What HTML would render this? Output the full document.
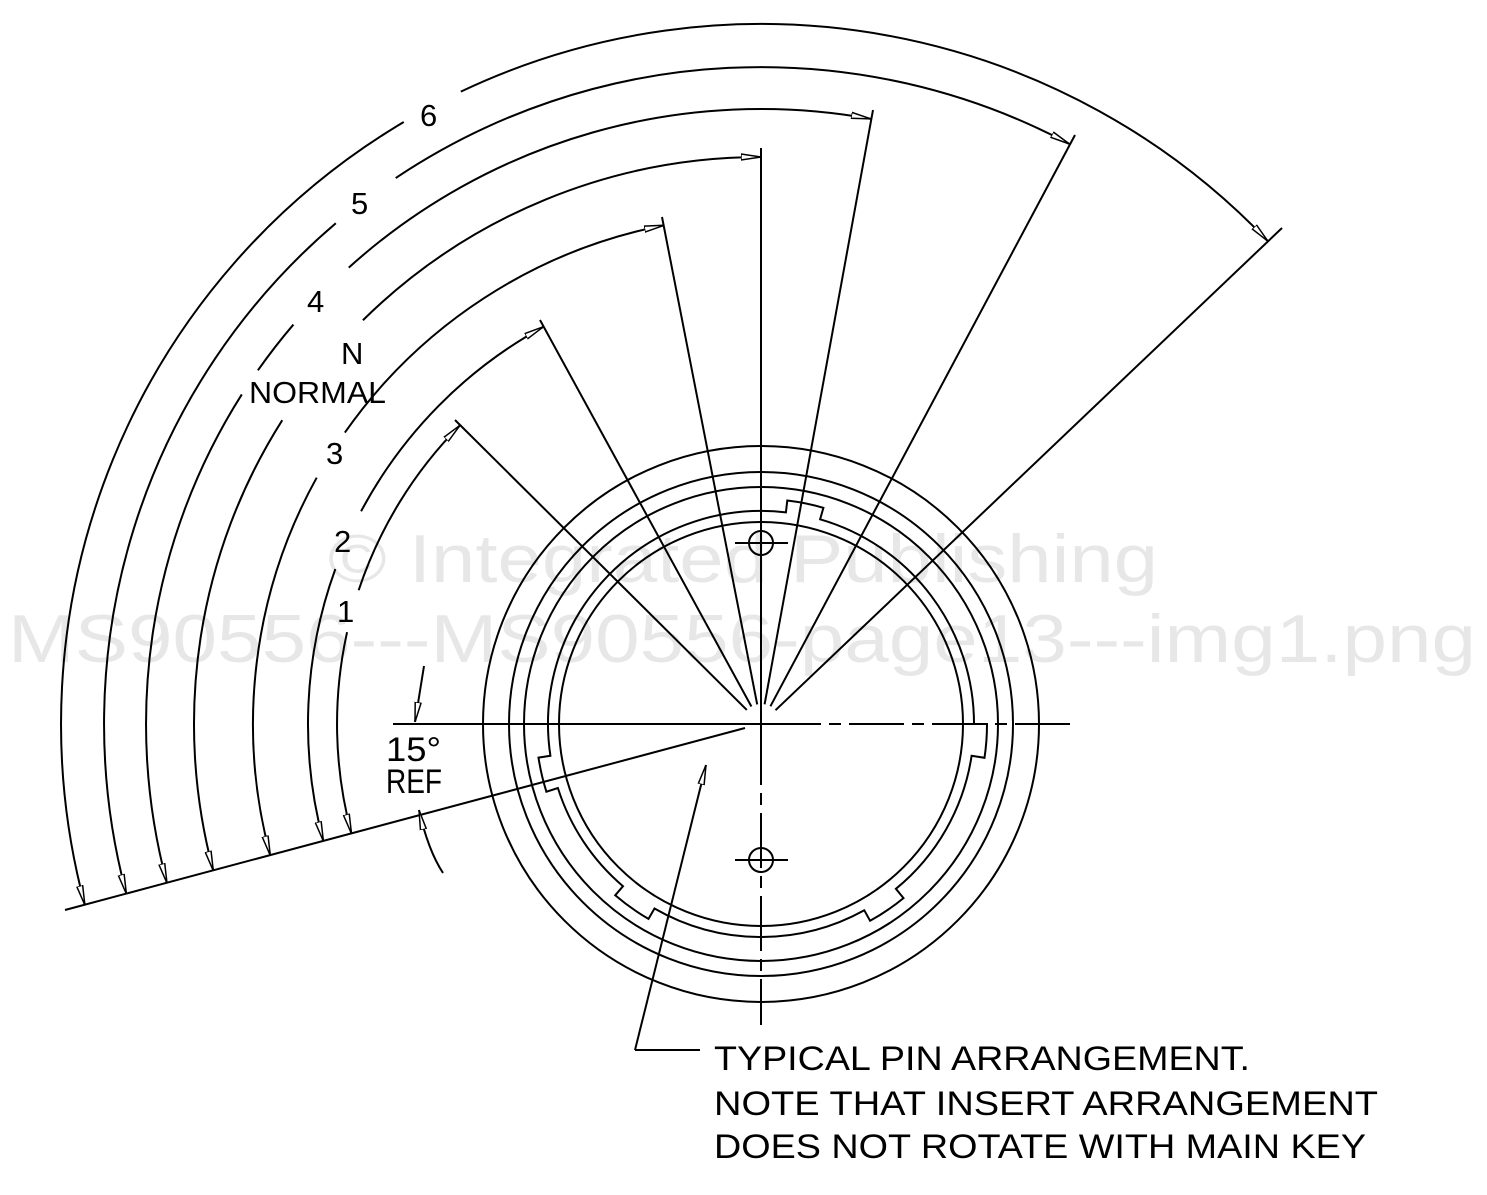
<!DOCTYPE html>
<html><head><meta charset="utf-8"><style>
html,body{margin:0;padding:0;background:#fff;}
svg{display:block;}
text{font-family:"Liberation Sans",sans-serif;fill:#000;}
</style></head><body>
<svg width="1487" height="1195" viewBox="0 0 1487 1195" xmlns="http://www.w3.org/2000/svg">
<defs>
<marker id="ah" viewBox="0 0 20 8" refX="20" refY="4" markerWidth="20" markerHeight="8" markerUnits="userSpaceOnUse" orient="auto-start-reverse">
<path d="M0,1 L20,4 L0,7 Z" fill="#fff" stroke="#000" stroke-width="1.5"/>
</marker>
</defs>
<g fill="none" stroke="#000" stroke-width="2">
<!-- arcs (pathLength in degrees, dasharray makes label gaps) -->
<path pathLength="59.8" stroke-dasharray="26.4 5.9 100" d="M460.1,425.2 A424,424 0 0 0 351.5,833.7" marker-start="url(#ah)" marker-end="url(#ah)"/>
<path pathLength="76.3" stroke-dasharray="33.3 8 100" d="M543.5,326.7 A453,453 0 0 0 323.4,841.2" marker-start="url(#ah)" marker-end="url(#ah)"/>
<path pathLength="94" stroke-dasharray="44 6 100" d="M664.1,225.3 A508,508 0 0 0 270.3,855.5" marker-start="url(#ah)" marker-end="url(#ah)"/>
<path pathLength="105" stroke-dasharray="44.6 13 100" d="M761,157 A567,567 0 0 0 213.3,870.7" marker-start="url(#ah)" marker-end="url(#ah)"/>
<path pathLength="115.3" stroke-dasharray="52.4 7.4 5.4 2.7 100" d="M871,118.9 A615,615 0 0 0 167,883.2" marker-start="url(#ah)" marker-end="url(#ah)"/>
<path pathLength="133" stroke-dasharray="61.8 6.55 100" d="M1069.5,144 A657,657 0 0 0 126.4,894" marker-start="url(#ah)" marker-end="url(#ah)"/>
<path pathLength="151.4" stroke-dasharray="71.8 5.3 100" d="M1268,241.3 A700,700 0 0 0 84.9,905.2" marker-start="url(#ah)" marker-end="url(#ah)"/>
</g>
<g font-size="31">
<text x="337" y="622">1</text>
<text x="334" y="552">2</text>
<text x="326" y="464">3</text>
<text x="341" y="364">N</text>
<text x="249" y="403" textLength="137" lengthAdjust="spacingAndGlyphs">NORMAL</text>
<text x="307" y="312">4</text>
<text x="351" y="214">5</text>
<text x="420" y="126">6</text>
</g>
<g fill="none" stroke="#000" stroke-width="2">
<!-- radial lines -->
<line x1="746.8" y1="709.9" x2="455" y2="420"/>
<line x1="751.4" y1="706.5" x2="540" y2="320"/>
<line x1="757.2" y1="704.4" x2="662" y2="217"/>
<line x1="764.6" y1="704.3" x2="873" y2="110"/>
<line x1="770.4" y1="706.3" x2="1075" y2="135"/>
<line x1="775.5" y1="710.2" x2="1282" y2="228"/>
<!-- axes -->
<line x1="761" y1="148" x2="761" y2="730"/>
<line x1="761" y1="730" x2="761" y2="1025" stroke-dasharray="55,8,12,8"/>
<line x1="393" y1="724" x2="766" y2="724"/>
<line x1="766" y1="724" x2="1070" y2="724" stroke-dasharray="55,8,12,8"/>
<!-- ref line -->
<line x1="745" y1="728" x2="65" y2="910"/>
<!-- circles -->
<circle cx="761" cy="724" r="278"/>
<circle cx="761" cy="724" r="252"/>
<circle cx="761" cy="724" r="237"/>
<circle cx="761" cy="724" r="202"/>
<path d="M984.5,757.8 A226,226 0 0 0 987,724 L974,724 A213,213 0 0 0 820.1,519.3 L823.4,507.8 A225,225 0 0 0 787.3,500.5 L785.9,512.4 A213,213 0 0 0 550.4,755.8 L538.5,757.6 A225,225 0 0 0 546.4,791.7 L557.9,788 A213,213 0 0 0 623,886.2 L615.2,895.3 A225,225 0 0 0 648.5,918.9 L654.5,908.5 A213,213 0 0 0 864.3,910.3 L870.1,920.8 A225,225 0 0 0 903.5,898.1 L895.9,888.8 A213,213 0 0 0 971.6,755.8 Z"/>
<!-- pins -->
<circle cx="761" cy="543" r="12"/>
<line x1="735" y1="543" x2="788" y2="543"/>
<circle cx="761" cy="860" r="12"/>
<line x1="735" y1="860" x2="788" y2="860"/>
<!-- 15 deg arrows -->
<line x1="424" y1="666" x2="415" y2="722" marker-end="url(#ah)"/>
<path d="M443,873 Q428,850 419,810" marker-end="url(#ah)"/>
<!-- leader -->
<line x1="635" y1="1050" x2="706" y2="765" marker-end="url(#ah)"/>
<line x1="635" y1="1050" x2="700" y2="1050"/>
</g>
<g font-size="34">
<text x="386" y="761" textLength="55" lengthAdjust="spacingAndGlyphs">15°</text>
<text x="386" y="793" textLength="56" lengthAdjust="spacingAndGlyphs">REF</text>
<text x="714" y="1070" textLength="536" lengthAdjust="spacingAndGlyphs">TYPICAL PIN ARRANGEMENT.</text>
<text x="714" y="1115" textLength="664" lengthAdjust="spacingAndGlyphs">NOTE THAT INSERT ARRANGEMENT</text>
<text x="714" y="1158" textLength="652" lengthAdjust="spacingAndGlyphs">DOES NOT ROTATE WITH MAIN KEY</text>
</g>
<g font-size="68" style="fill:#000;opacity:0.09">
<text x="328" y="582" textLength="830" lengthAdjust="spacingAndGlyphs">© Integrated Publishing</text>
<text x="8" y="662" textLength="1468" lengthAdjust="spacingAndGlyphs">MS90556---MS90556-page13---img1.png</text>
</g>
</svg>
</body></html>
